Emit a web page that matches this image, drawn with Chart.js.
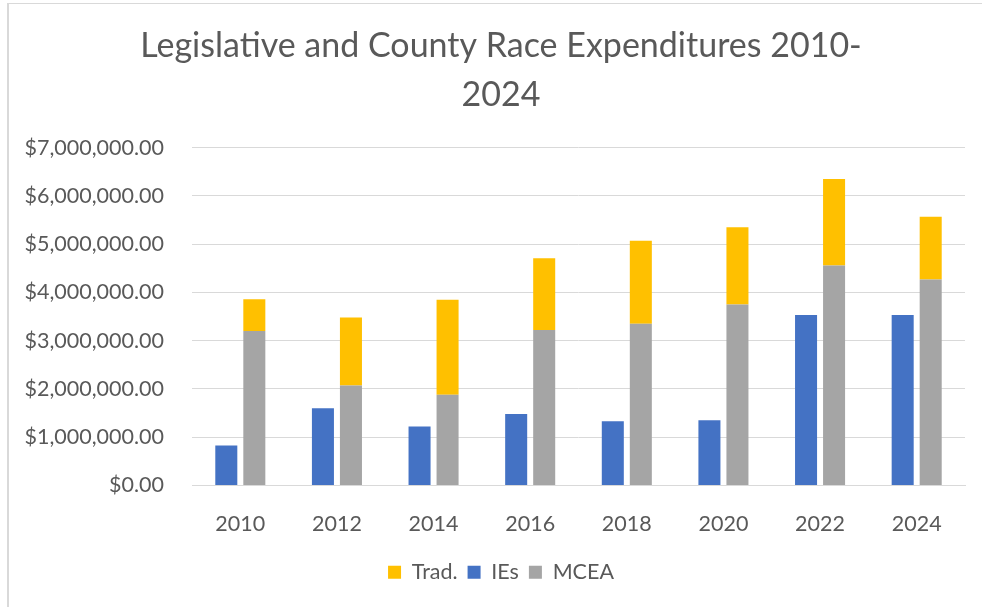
<!DOCTYPE html>
<html>
<head>
    <title>Legislative and County Race Expenditures</title>
    <script src="https://cdn.jsdelivr.net/npm/chart.js"></script>
    <style>
        html, body { margin: 0; padding: 0; background: #fff; overflow: hidden; }
        .chart-frame {
            position: absolute;
            left: 7px;
            top: 3px;
            width: 1000px;
            height: 640px;
            border-left: 2px solid #d9d9d9;
            border-top: 1px solid #d9d9d9;
        }
        .chart-container {
            position: absolute;
            left: 9px;
            top: 4px;
            width: 984px;
            height: 603px;
        }
    </style>
</head>
<body>
    <div class="chart-frame"></div>
    <div class="chart-container">
        <canvas id="chartjs"></canvas>
    </div>

    <script>
        const years = ['2010', '2012', '2014', '2016', '2018', '2020', '2022', '2024'];
        const ies = [830000, 1600000, 1220000, 1480000, 1330000, 1350000, 3530000, 3530000];
        const mcea = [3200000, 2070000, 1880000, 3220000, 3350000, 3750000, 4560000, 4270000];
        const trad = [660000, 1410000, 1970000, 1490000, 1720000, 1600000, 1790000, 1300000];
        const legendOrder = ['Trad.', 'IEs', 'MCEA'];

        const textColor = '#595959';
        const gridColor = '#d9d9d9';
        const fontFamily = 'Lato, "Open Sans", sans-serif';

        const ctx = document.getElementById('chartjs').getContext('2d');

        new Chart(ctx, {
            type: 'bar',
            data: {
                labels: years,
                datasets: [
                    {
                        label: 'IEs',
                        data: ies,
                        backgroundColor: '#4472c4',
                        stack: 'ie'
                    },
                    {
                        label: 'MCEA',
                        data: mcea,
                        backgroundColor: '#a5a5a5',
                        stack: 'main'
                    },
                    {
                        label: 'Trad.',
                        data: trad,
                        backgroundColor: '#ffc000',
                        stack: 'main'
                    }
                ]
            },
            options: {
                responsive: true,
                maintainAspectRatio: false,
                animation: false,
                categoryPercentage: 0.58,
                barPercentage: 0.786,
                layout: {
                    padding: { left: 0, right: 0, top: 0, bottom: 14 }
                },
                scales: {
                    x: {
                        stacked: true,
                        grid: { display: false },
                        border: { color: gridColor },
                        ticks: {
                            color: textColor,
                            font: { family: fontFamily, size: 21.5 },
                            padding: 18
                        },
                        afterFit: (scale) => { scale.height = 66; }
                    },
                    y: {
                        stacked: true,
                        min: 0,
                        max: 7000000,
                        border: { display: false },
                        grid: {
                            color: gridColor,
                            drawTicks: false
                        },
                        ticks: {
                            stepSize: 1000000,
                            color: textColor,
                            padding: 28,
                            font: { family: fontFamily, size: 21.5 },
                            callback: function(value) {
                                return '$' + value.toLocaleString('en-US', {
                                    minimumFractionDigits: 2,
                                    maximumFractionDigits: 2
                                });
                            }
                        },
                        afterFit: (scale) => { scale.width = 183; }
                    },
                    // empty right-hand spacer so the title and legend stay centred on the whole frame
                    spacer: {
                        type: 'linear',
                        position: 'right',
                        min: 0,
                        max: 1,
                        grid: { display: false },
                        border: { display: false },
                        ticks: { display: false },
                        afterFit: (scale) => { scale.width = 28; }
                    }
                },
                plugins: {
                    title: {
                        display: true,
                        text: ['Legislative and County Race Expenditures 2010-', '2024'],
                        color: textColor,
                        font: { family: fontFamily, size: 34, weight: 'normal', lineHeight: 1.45 },
                        padding: { top: 17, bottom: 28 }
                    },
                    legend: {
                        position: 'bottom',
                        labels: {
                            boxWidth: 13,
                            boxHeight: 13,
                            color: textColor,
                            padding: 10,
                            font: { family: fontFamily, size: 21.5 },
                            sort: (a, b) => legendOrder.indexOf(a.text) - legendOrder.indexOf(b.text)
                        }
                    },
                    tooltip: { enabled: false }
                }
            }
        });
    </script>
</body>
</html>
